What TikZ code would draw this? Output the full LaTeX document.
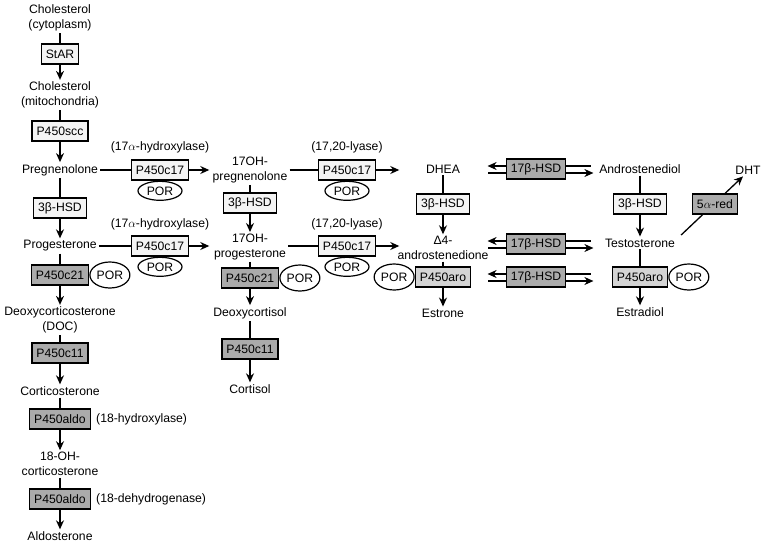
\documentclass[tikz,border=0pt]{standalone}
\usepackage{fontspec}
\setmainfont{Liberation Sans}
\usetikzlibrary{shapes.geometric,arrows.meta}
\definecolor{dgray}{HTML}{ABABAB}
\definecolor{mgray}{HTML}{D4D4D4}
\definecolor{lgray}{HTML}{F4F4F4}
\begin{document}
\begin{tikzpicture}[x=1pt,y=-1pt,
 every node/.style={font=\fontsize{12.2}{14.5}\selectfont},
 cmp/.style={align=center, inner sep=2pt},
 enz/.style={draw, line width=1.4pt, minimum height=20pt, inner xsep=4.5pt, inner ysep=0pt, fill=lgray},
 enzd/.style={enz, fill=dgray},
 enza/.style={enz, fill=mgray},
 por/.style={ellipse, draw, line width=1.2pt, fill=white, minimum width=44pt, minimum height=19pt, inner sep=0pt},
 pors/.style={por, minimum width=40pt, minimum height=26pt},
 ln/.style={line width=1.3pt},
 arr/.style={ln, -{Stealth[length=9pt,width=8pt]}},
 lab/.style={inner sep=0pt}]
\useasboundingbox (0,0) rectangle (764,547);

% column 1
\node[cmp] (chol1) at (60,18) {Cholesterol\\(cytoplasm)};
\node[enz] (star) at (60,54) {StAR};
\node[cmp] (chol2) at (60,95) {Cholesterol\\(mitochondria)};
\node[enz] (scc) at (60,131) {P450scc};
\node[cmp] (preg) at (60,170) {Pregnenolone};
\node[enz] (hsd1) at (60,208) {3β-HSD};
\node[cmp] (prog) at (60,246) {Progesterone};
\node[enzd] (c21a) at (60,275) {P450c21};
\node[pors, anchor=west] (pora) at (c21a.east) {POR};
\node[cmp] (doc) at (60,320) {Deoxycorticosterone\\(DOC)};
\node[enzd] (c11a) at (60,353) {P450c11};
\node[cmp] (cort) at (60,391) {Corticosterone};
\node[enzd] (aldo1) at (60,419) {P450aldo};
\node[lab, anchor=west] (l18h) at (96,419) {(18-hydroxylase)};
\node[cmp] (ohc) at (60,464) {18-OH-\\corticosterone};
\node[enzd] (aldo2) at (60,499) {P450aldo};
\node[lab, anchor=west] (l18d) at (96,499) {(18-dehydrogenase)};
\node[cmp] (aldos) at (60,536) {Aldosterone};

% column 2
\node[cmp] (ohpreg) at (250,170) {17OH-\\pregnenolone};
\node[enz] (hsd2) at (250,203) {3β-HSD};
\node[cmp] (ohprog) at (250,247) {17OH-\\progesterone};
\node[enzd] (c21b) at (250,278) {P450c21};
\node[pors, anchor=west] (porb) at (c21b.east) {POR};
\node[cmp] (dcortl) at (250,313) {Deoxycortisol};
\node[enzd] (c11b) at (250,349) {P450c11};
\node[cmp] (cortisol) at (250,389) {Cortisol};

% P450c17 boxes
\node[enz] (c17a) at (160,170) {P450c17};
\node[por, anchor=north] (por17a) at (c17a.south) {POR};
\node[lab] (l17a) at (160,147) {(17$\alpha$-hydroxylase)};
\node[enz] (c17b) at (160,246) {P450c17};
\node[por, anchor=north] (por17b) at (c17b.south) {POR};
\node[lab] (l17b) at (160,224) {(17$\alpha$-hydroxylase)};
\node[enz] (c17c) at (347,170) {P450c17};
\node[por, anchor=north] (por17c) at (c17c.south) {POR};
\node[lab] (l17c) at (347,147) {(17,20-lyase)};
\node[enz] (c17d) at (347,246) {P450c17};
\node[por, anchor=north] (por17d) at (c17d.south) {POR};
\node[lab] (l17d) at (347,224) {(17,20-lyase)};

% right part
\node[cmp] (dhea) at (443,169) {DHEA};
\node[enzd] (hsdA) at (536,169) {17β-HSD};
\node[cmp] (adiol) at (640,169) {Androstenediol};
\node[cmp] (dht) at (748,170) {DHT};
\node[enz] (hsd3) at (443,204) {3β-HSD};
\node[enz] (hsd4) at (640,204) {3β-HSD};
\node[cmp] (adione) at (443,248) {Δ4-\\androstenedione};
\node[enzd] (hsdB) at (536,244) {17β-HSD};
\node[cmp] (testo) at (640,243) {Testosterone};
\node[enza] (aroa) at (443,277) {P450aro};
\node[pors, anchor=east] (porc) at (aroa.west) {POR};
\node[enzd] (hsdC) at (536,277) {17β-HSD};
\node[enza] (arob) at (640,277) {P450aro};
\node[pors, anchor=west] (pord) at (arob.east) {POR};
\node[cmp] (estrone) at (443,313) {Estrone};
\node[cmp] (estradiol) at (640,312) {Estradiol};

% vertical connectors column 1
\draw[ln] (chol1.south) -- (star.north);
\draw[arr] (star.south) -- (chol2.north);
\draw[ln] (chol2.south) -- (scc.north);
\draw[arr] (scc.south) -- (preg.north);
\draw[ln] (preg.south) -- (hsd1.north);
\draw[arr] (hsd1.south) -- (prog.north);
\draw[ln] (prog.south) -- (c21a.north);
\draw[arr] (c21a.south) -- (doc.north);
\draw[ln] (doc.south) -- (c11a.north);
\draw[arr] (c11a.south) -- (cort.north);
\draw[ln] (cort.south) -- (aldo1.north);
\draw[arr] (aldo1.south) -- (ohc.north);
\draw[ln] (ohc.south) -- (aldo2.north);
\draw[arr] (aldo2.south) -- (aldos.north);

% column 2
\draw[ln] (ohpreg.south) -- (hsd2.north);
\draw[arr] (hsd2.south) -- (ohprog.north);
\draw[ln] (ohprog.south) -- (c21b.north);
\draw[arr] (c21b.south) -- (dcortl.north);
\draw[ln] (dcortl.south) -- (c11b.north);
\draw[arr] (c11b.south) -- (cortisol.north);

% columns 3 and 4
\draw[ln] (dhea.south) -- (hsd3.north);
\draw[arr] (hsd3.south) -- (adione.north);
\draw[ln] (adione.south) -- (aroa.north);
\draw[arr] (aroa.south) -- (estrone.north);
\draw[ln] (adiol.south) -- (hsd4.north);
\draw[arr] (hsd4.south) -- (testo.north);
\draw[ln] (testo.south) -- (arob.north);
\draw[arr] (arob.south) -- (estradiol.north);

% horizontal connectors
\draw[ln] (preg.east) -- (c17a.west);
\draw[arr] (c17a.east) -- ++(20,0);
\draw[ln] (prog.east) -- (c17b.west);
\draw[arr] (c17b.east) -- ++(20,0);
\draw[ln] (c17c.west -| ohpreg.east) -- (c17c.west);
\draw[arr] (c17c.east) -- ++(23,0);
\draw[ln] (c17d.west -| ohprog.east) -- (c17d.west);
\draw[arr] (c17d.east) -- ++(23,0);

% 17beta-HSD double arrows
\foreach \h in {hsdA,hsdB,hsdC}{
  \draw[arr] ([yshift=3pt]\h.west) -- ++(-18,0);
  \draw[ln] ([yshift=3pt]\h.east) -- ++(25,0);
  \draw[ln] ([yshift=-4pt]\h.west) -- ++(-18,0);
  \draw[arr] ([yshift=-4pt]\h.east) -- ++(27,0);
}

% testosterone -> DHT
\draw[arr] ([xshift=4pt,yshift=8pt]testo.east) -- ([xshift=-5pt]dht.south);
\node[enzd] (red) at (715,204) {5$\alpha$-red};
\end{tikzpicture}
\end{document}
